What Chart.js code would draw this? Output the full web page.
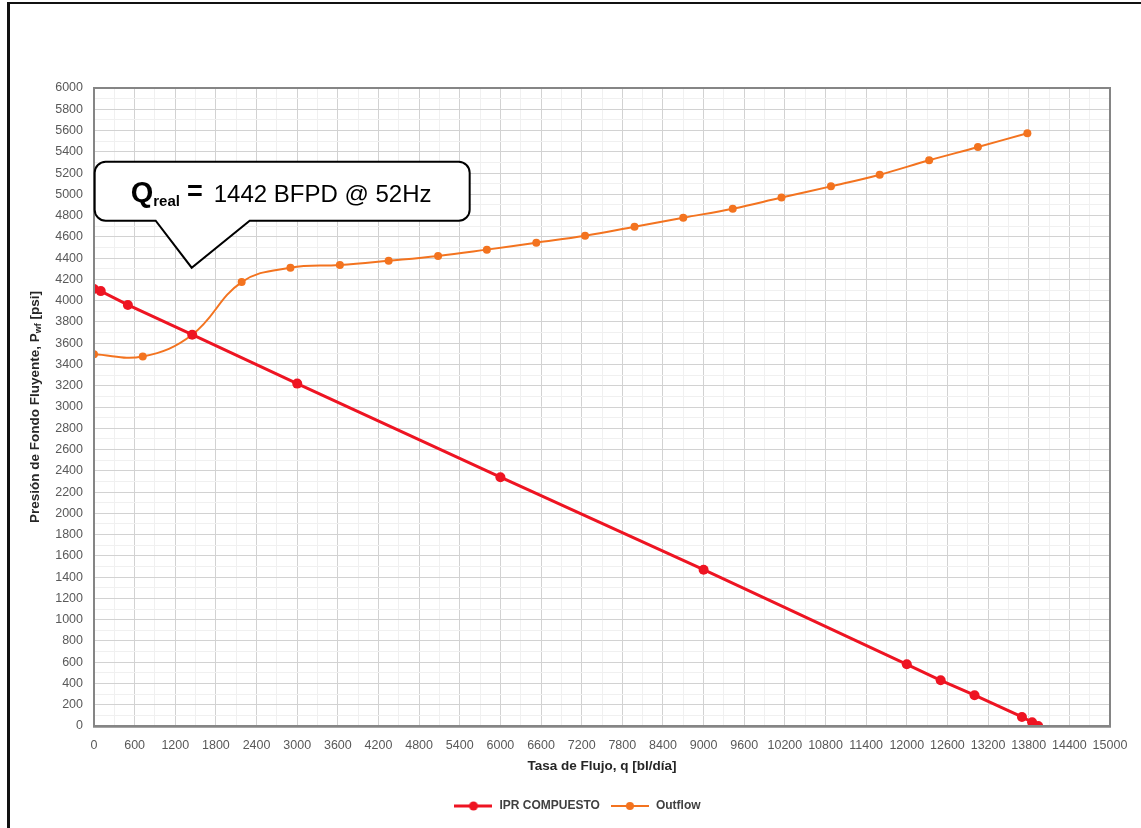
<!DOCTYPE html>
<html>
<head>
<meta charset="utf-8">
<script src="https://cdn.jsdelivr.net/npm/chart.js@4.4.1/dist/chart.umd.min.js"></script>
<style>
	html, body { margin: 0; padding: 0; background: #fff; }
	#wrapper { position: relative; width: 1141px; height: 828px; }
	#frame {
		position: absolute; left: 7px; top: 2px; right: 0; bottom: 0;
		border-top: 2px solid #111; border-left: 3px solid #111;
		pointer-events: none;
	}
</style>
</head>
<body>
<div id="wrapper">
	<canvas id="ipr-chart" width="1141" height="828"></canvas>
	<div id="frame"></div>
</div>
<script>
// IPR curve (red) - caudal vs presion
const iprQ = [0, 100, 500, 1450, 3000, 6000, 9000, 12000, 12500, 13000, 13700, 13850, 13940];
const iprP = [4110, 4090, 3960, 3680, 3220, 2340, 1470, 580, 430, 290, 85, 35, 0];

// Outflow curve (orange)
const outQ = [0, 720, 1450, 2180, 2900, 3630, 4350, 5080, 5800, 6530, 7250, 7980, 8700, 9430, 10150, 10880, 11600, 12330, 13050, 13780];
const outP = [3495, 3475, 3680, 4175, 4310, 4335, 4375, 4420, 4480, 4545, 4610, 4695, 4780, 4865, 4970, 5075, 5185, 5320, 5445, 5575];

// axis ticks
const xMax = 15000;
const xLabelStep = 600;
const yMax = 6000;
const yLabelStep = 200;

// callout
const qReal = 1442;
const calloutTip = 4310;

const RED = "#ee1422";
const ORANGE = "#f3731f";
const FONT = "'Liberation Sans', Arial, sans-serif";

function toPoints(xs, ys) {
	return xs.map((x, i) => ({ x: x, y: ys[i] }));
}

function legendIcon(color, lw, r) {
	let c = document.createElement("canvas");
	c.width = 38;
	c.height = 12;
	let g = c.getContext("2d");
	g.strokeStyle = color;
	g.lineWidth = lw;
	g.beginPath();
	g.moveTo(0, 6);
	g.lineTo(38, 6);
	g.stroke();
	g.fillStyle = color;
	g.beginPath();
	g.arc(19, 6, r, 0, Math.PI * 2);
	g.fill();
	return c;
}

// frame + y title with subscript + callout box
const decorPlugin = {
	id: "decor",
	afterLayout(chart) {
		// legend sits a bit right of the canvas centre in the original
		if (chart.legend) {
			chart.legend.left += 22;
			chart.legend.right += 22;
		}
	},
	afterDatasetsDraw(chart) {
		let { ctx, chartArea, scales } = chart;

		// plot border
		ctx.save();
		ctx.strokeStyle = "#858585";
		ctx.lineWidth = 2;
		ctx.strokeRect(chartArea.left, chartArea.top, chartArea.right - chartArea.left, chartArea.bottom - chartArea.top);
		ctx.restore();

		// y axis title
		ctx.save();
		ctx.translate(35, (chartArea.top + chartArea.bottom) / 2);
		ctx.rotate(-Math.PI / 2);
		ctx.fillStyle = "#262626";
		ctx.textBaseline = "middle";
		let main = "Presión de Fondo Fluyente, P";
		let sub = "wf";
		let tail = " [psi]";
		let big = "bold 13.5px " + FONT;
		let small = "bold 9px " + FONT;
		ctx.font = big;
		let w1 = ctx.measureText(main).width;
		let w3 = ctx.measureText(tail).width;
		ctx.font = small;
		let w2 = ctx.measureText(sub).width;
		let x0 = -(w1 + w2 + w3) / 2;
		ctx.textAlign = "left";
		ctx.font = big;
		ctx.fillText(main, x0, 0);
		ctx.font = small;
		ctx.fillText(sub, x0 + w1, 4);
		ctx.font = big;
		ctx.fillText(tail, x0 + w1 + w2, 0);
		ctx.restore();

		// callout pointing at Q real
		let tx = scales.x.getPixelForValue(qReal);
		let ty = scales.y.getPixelForValue(calloutTip);
		let L = tx - 97, R = tx + 278, T = ty - 106, B = ty - 47, rad = 11;
		ctx.save();
		ctx.beginPath();
		ctx.moveTo(L + rad, T);
		ctx.lineTo(R - rad, T);
		ctx.arcTo(R, T, R, T + rad, rad);
		ctx.lineTo(R, B - rad);
		ctx.arcTo(R, B, R - rad, B, rad);
		ctx.lineTo(tx + 58, B);
		ctx.lineTo(tx, ty);
		ctx.lineTo(tx - 36, B);
		ctx.lineTo(L + rad, B);
		ctx.arcTo(L, B, L, B - rad, rad);
		ctx.lineTo(L, T + rad);
		ctx.arcTo(L, T, L + rad, T, rad);
		ctx.closePath();
		ctx.fillStyle = "#fff";
		ctx.fill();
		ctx.strokeStyle = "#000";
		ctx.lineWidth = 2;
		ctx.stroke();

		ctx.fillStyle = "#000";
		ctx.textAlign = "left";
		ctx.textBaseline = "alphabetic";
		let base = ty - 66;
		let x = tx - 61;
		ctx.font = "bold 29px " + FONT;
		ctx.fillText("Q", x, base);
		x += ctx.measureText("Q").width;
		ctx.font = "bold 15px " + FONT;
		ctx.fillText("real", x, base + 4);
		x += ctx.measureText("real").width + 7;
		ctx.font = "bold 27px " + FONT;
		ctx.fillText("=", x, base - 2);
		x += ctx.measureText("=").width + 11;
		ctx.font = "24px " + FONT;
		ctx.fillText("1442 BFPD @ 52Hz", x, base);
		ctx.restore();
	},
};

Chart.register(decorPlugin);

let ctx = document.getElementById("ipr-chart").getContext("2d");

let iprChart = new Chart(ctx, {
	type: "line",
	data: {
		datasets: [
			{
				label: "IPR COMPUESTO",
				data: toPoints(iprQ, iprP),
				borderColor: RED,
				backgroundColor: RED,
				borderWidth: 3,
				pointRadius: 5,
				pointBorderWidth: 0,
				tension: 0,
				order: 1,
			},
			{
				label: "Outflow",
				data: toPoints(outQ, outP),
				borderColor: ORANGE,
				backgroundColor: ORANGE,
				borderWidth: 2,
				pointRadius: 4,
				pointBorderWidth: 0,
				tension: 0.4,
				order: 2,
			},
		],
	},
	options: {
		responsive: false,
		animation: false,
		layout: {
			padding: { left: 0, right: 31, top: 88, bottom: 6 },
		},
		scales: {
			x: {
				type: "linear",
				min: 0,
				max: xMax,
				afterFit: (scale) => {
					scale.height = 64;
				},
				ticks: {
					stepSize: xLabelStep / 2,
					autoSkip: false,
					maxRotation: 0,
					padding: 12,
					color: "#595959",
					font: { family: FONT, size: 12.5 },
					callback: (v) => (v % xLabelStep === 0 ? String(v) : ""),
				},
				grid: {
					drawTicks: false,
					color: (c) => (c.tick && c.tick.value % xLabelStep === 0 ? "#d2d2d2" : "#f0f0f0"),
				},
				border: { display: true, color: "#a6a6a6", width: 3 },
				title: {
					display: true,
					text: "Tasa de Flujo, q [bl/día]",
					color: "#262626",
					font: { family: FONT, size: 13.5, weight: "bold" },
					padding: { top: 4, bottom: 16 },
				},
			},
			y: {
				min: 0,
				max: yMax,
				afterFit: (scale) => {
					scale.width = 94;
				},
				ticks: {
					stepSize: yLabelStep / 2,
					autoSkip: false,
					padding: 11,
					color: "#595959",
					font: { family: FONT, size: 12.5 },
					callback: (v) => (v % yLabelStep === 0 ? String(v) : ""),
				},
				grid: {
					drawTicks: false,
					color: (c) => (c.tick && c.tick.value % yLabelStep === 0 ? "#d2d2d2" : "#f0f0f0"),
				},
				border: { display: true, color: "#858585", width: 2 },
			},
		},
		plugins: {
			legend: {
				display: true,
				position: "bottom",
				labels: {
					usePointStyle: true,
					pointStyleWidth: 40,
					padding: 10,
					color: "#404040",
					font: { family: FONT, size: 12, weight: "bold" },
					generateLabels: (chart) =>
						chart.data.datasets.map((ds, i) => ({
							text: ds.label,
							datasetIndex: i,
							fontColor: "#404040",
							pointStyle: legendIcon(ds.borderColor, ds.borderWidth, i === 0 ? 4.5 : 4),
							lineWidth: 0,
							strokeStyle: ds.borderColor,
							fillStyle: ds.borderColor,
							hidden: false,
						})),
				},
			},
			tooltip: { enabled: false },
		},
	},
});
</script>
</body>
</html>
